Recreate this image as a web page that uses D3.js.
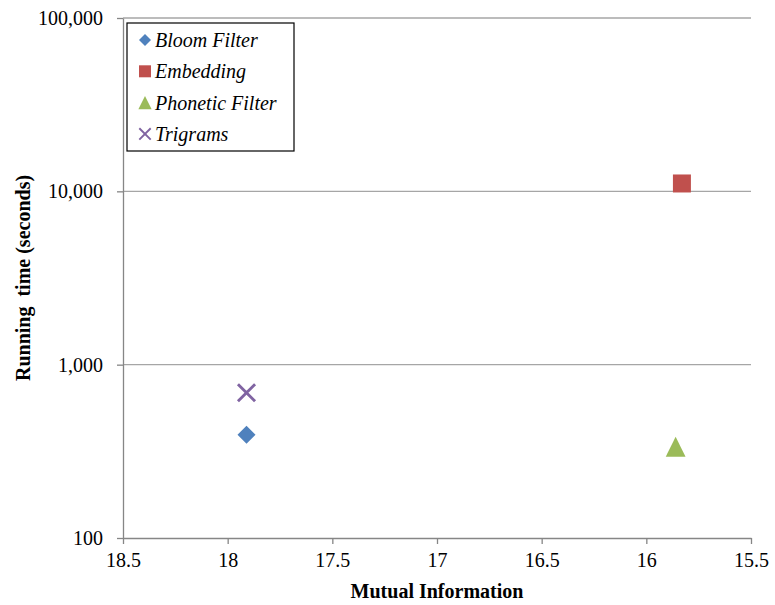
<!DOCTYPE html>
<html>
<head>
<meta charset="utf-8">
<script src="https://cdn.jsdelivr.net/npm/d3@7"></script>
<style>
  body { margin: 0; background: #fff; }
  svg text { font-family: 'Liberation Serif', 'Times New Roman', serif !important; }
</style>
</head>
<body>
<svg id="chart" width="775" height="605"></svg>
<script>
// data
let methods = ["Bloom Filter", "Embedding", "Phonetic Filter", "Trigrams"];
let mutualInfo = [17.91, 15.83, 15.86, 17.91];
let runningTime = [394, 11100, 336, 689];
let colors = ["#4F81BD", "#C0504D", "#9BBB59", "#8064A2"];
let shapes = ["diamond", "square", "triangle", "cross"];

let xTicks = [18.5, 18, 17.5, 17, 16.5, 16, 15.5];
let yTicks = [100, 1000, 10000, 100000];

let margin = { top: 18, right: 24, bottom: 67, left: 123 };
let width = 775 - margin.left - margin.right,
  height = 605 - margin.top - margin.bottom;

let data = methods.map((m, i) => ({
  name: m,
  x: mutualInfo[i],
  y: runningTime[i],
  color: colors[i],
  shape: shapes[i]
}));

let svg = d3
  .select("#chart")
  .append("g")
  .attr("transform", "translate(" + margin.left + "," + margin.top + ")");

let xScale = d3.scaleLinear().domain([18.5, 15.5]).range([0, width]);
let yScale = d3.scaleLog().domain([100, 100000]).range([height, 0]);

// horizontal gridlines
svg
  .selectAll(".grid")
  .data(yTicks.slice(1))
  .enter()
  .append("line")
  .attr("x1", 0)
  .attr("x2", width)
  .attr("y1", d => yScale(d))
  .attr("y2", d => yScale(d))
  .attr("stroke", "#a6a6a6")
  .attr("stroke-width", 1.3);

let xAxis = d3
  .axisBottom(xScale)
  .tickValues(xTicks)
  .tickFormat(d3.format("~g"))
  .tickSize(6)
  .tickSizeOuter(0)
  .tickPadding(9);

let yAxis = d3
  .axisLeft(yScale)
  .tickValues(yTicks)
  .tickFormat(d3.format(",.0f"))
  .tickSize(6)
  .tickSizeOuter(0)
  .tickPadding(14);

let gx = svg
  .append("g")
  .attr("transform", "translate(0," + height + ")")
  .call(xAxis);

let gy = svg.append("g").call(yAxis);

[gx, gy].forEach(g => {
  g.attr("font-family", null).attr("font-size", 20);
  g.select(".domain").attr("stroke", "#868686").attr("stroke-width", 1.3);
  g.selectAll(".tick line").attr("stroke", "#868686").attr("stroke-width", 1.3);
  g.selectAll(".tick text").attr("fill", "#000");
});

// marker paths
function markerPath(shape, s) {
  let p = d3.path();
  let h = s / 2;
  if (shape == "diamond") {
    p.moveTo(0, -h); p.lineTo(h, 0); p.lineTo(0, h); p.lineTo(-h, 0); p.closePath();
  } else if (shape == "square") {
    p.rect(-h, -h, s, s);
  } else if (shape == "triangle") {
    p.moveTo(0, -h); p.lineTo(h, h); p.lineTo(-h, h); p.closePath();
  } else {
    p.moveTo(-h, -h); p.lineTo(h, h); p.moveTo(h, -h); p.lineTo(-h, h);
  }
  return p.toString();
}

function drawMarker(sel, s) {
  sel
    .attr("d", d => markerPath(d.shape, d.shape == "cross" ? s * 0.95 : d.shape == "triangle" ? s * 1.1 : s))
    .attr("fill", d => (d.shape == "cross" ? "none" : d.color))
    .attr("stroke", d => (d.shape == "cross" ? d.color : "none"))
    .attr("stroke-width", d => (d.shape == "cross" ? s * 0.16 : 0));
}

svg
  .selectAll(".pt")
  .data(data)
  .enter()
  .append("path")
  .attr("transform", d => "translate(" + xScale(d.x) + "," + yScale(d.y) + ")")
  .call(drawMarker, 18);

// axis titles
svg
  .append("text")
  .text("Mutual Information")
  .attr("x", width / 2)
  .attr("y", height + 60)
  .attr("text-anchor", "middle")
  .attr("font-size", 20)
  .attr("font-weight", "bold");

svg
  .append("text")
  .text("Running  time (seconds)")
  .attr("transform", "translate(" + (-margin.left + 30) + "," + height / 2 + ") rotate(-90)")
  .attr("text-anchor", "middle")
  .attr("font-size", 20)
  .attr("font-weight", "bold")
  .style("white-space", "pre");

// legend
let legend = svg.append("g").attr("transform", "translate(4,5)");

legend
  .append("rect")
  .attr("width", 167)
  .attr("height", 128)
  .attr("fill", "#fff")
  .attr("stroke", "#000")
  .attr("stroke-width", 1.2);

let items = legend
  .selectAll(".item")
  .data(data)
  .enter()
  .append("g")
  .attr("transform", (d, i) => "translate(18," + (17 + i * 31.3) + ")");

items.append("path").call(drawMarker, 12);

items
  .append("text")
  .attr("x", 10)
  .attr("y", 7)
  .text(d => d.name)
  .attr("font-size", 20)
  .attr("font-style", "italic");
</script>
</body>
</html>
